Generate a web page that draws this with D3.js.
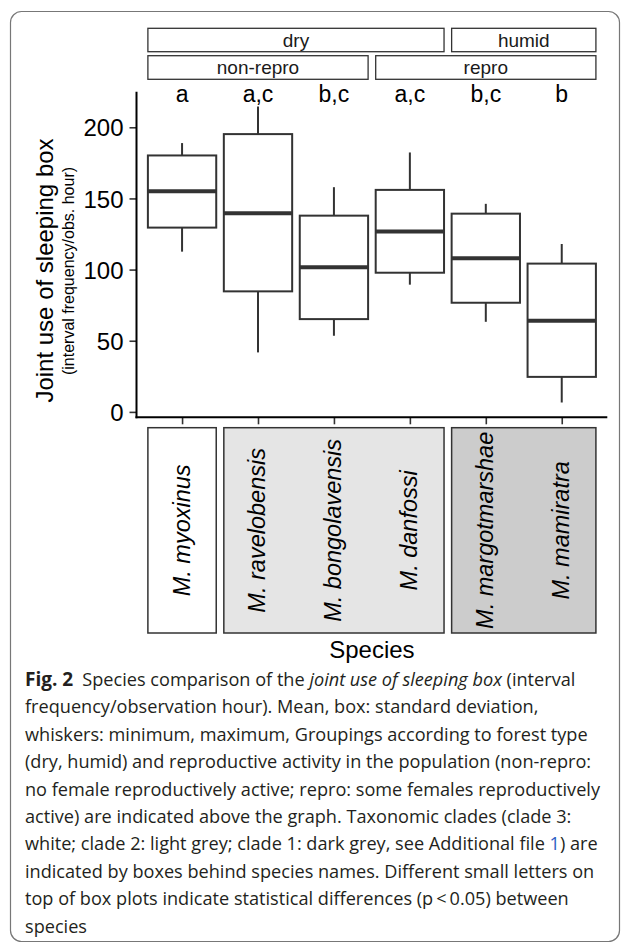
<!DOCTYPE html>
<html>
<head>
<meta charset="utf-8">
<script src="https://cdn.jsdelivr.net/npm/d3@7"></script>
<style>
  body { margin: 0; background: #fff; }
  svg { display: block; }
</style>
</head>
<body>
<div id="chart"></div>
<script>
// species in plotting order
var species = ["M. myoxinus", "M. ravelobensis", "M. bongolavensis", "M. danfossi", "M. margotmarshae", "M. mamiratra"];
// whisker ends (min / max), box (mean - sd / mean + sd), mean
var minVals  = [112.6, 41.8, 53.5, 89.4, 63.3, 6.6];
var lowVals  = [129.5, 84.7, 65.2, 97.8, 76.7, 24.6];
var meanVals = [155.1, 139.6, 101.6, 126.7, 107.9, 64.0];
var highVals = [180.2, 195.2, 137.9, 156.0, 139.3, 104.2];
var maxVals  = [188.9, 214.6, 157.9, 182.3, 146.2, 118.0];
var letters  = ["a", "a,c", "b,c", "a,c", "b,c", "b"];
var yTicks   = [0, 50, 100, 150, 200];

// groupings above the graph (index of first / last species)
var forestGroups = [["dry", 0, 3], ["humid", 4, 5]];
var reproGroups  = [["non-repro", 0, 2], ["repro", 3, 5]];
// clades behind species names
var cladeGroups  = [["clade 3", 0, 0], ["clade 2", 1, 3], ["clade 1", 4, 5]];
var cladeFill    = {"clade 3": "#ffffff", "clade 2": "#e5e5e5", "clade 1": "#cccccc"};

var captionLines = [
  [["Fig. 2", "b"], ["\u2002Species comparison of the ", ""], ["joint use of sleeping box", "i"], [" (interval", ""]],
  [["frequency/observation hour). Mean, box: standard deviation,", ""]],
  [["whiskers: minimum, maximum, Groupings according to forest type", ""]],
  [["(dry, humid) and reproductive activity in the population (non-repro:", ""]],
  [["no female reproductively active; repro: some females reproductively", ""]],
  [["active) are indicated above the graph. Taxonomic clades (clade 3:", ""]],
  [["white; clade 2: light grey; clade 1: dark grey, see Additional file ", ""], ["1", "link"], [") are", ""]],
  [["indicated by boxes behind species names. Different small letters on", ""]],
  [["top of box plots indicate statistical differences (p\u2009<\u20090.05) between", ""]],
  [["species", ""]]
];

var W = 629, H = 944;
var svg = d3.select("#chart").append("svg")
    .attr("width", W)
    .attr("height", H);

// figure frame
svg.append("rect")
    .attr("x", 10.5).attr("y", 11.5)
    .attr("width", 609).attr("height", 930)
    .attr("rx", 11)
    .attr("fill", "none")
    .attr("stroke", "#777")
    .attr("stroke-width", 1.2);

var box = {xmin: 136.5, xmax: 607.3, ymin: 91.7, ymax: 417.3};

var x = d3.scalePoint()
    .domain(species)
    .range([box.xmin, box.xmax])
    .padding(0.6);
var half = x.step() * 0.45;

// 5% expansion like ggplot
var lo = d3.min(minVals), hi = d3.max(maxVals), pad = (hi - lo) * 0.05;
var y = d3.scaleLinear()
    .domain([lo - pad, hi + pad])
    .range([box.ymax, box.ymin]);

var font = "'Liberation Sans', Arial, Helvetica, sans-serif";
var ink = "#333";

// strips on top
function strips(groups, top, bottom) {
    var g = svg.append("g");
    g.selectAll("rect").data(groups).enter().append("rect")
        .attr("x", function(d) { return x(species[d[1]]) - half; })
        .attr("width", function(d) { return x(species[d[2]]) - x(species[d[1]]) + 2 * half; })
        .attr("y", top).attr("height", bottom - top)
        .attr("fill", "#fff").attr("stroke", ink).attr("stroke-width", 1.3);
    g.selectAll("text").data(groups).enter().append("text")
        .attr("x", function(d) { return (x(species[d[1]]) + x(species[d[2]])) / 2; })
        .attr("y", (top + bottom) / 2 + 6.8)
        .attr("text-anchor", "middle")
        .style("font-family", font).style("font-size", "19px").attr("fill", "#1a1a1a")
        .text(function(d) { return d[0]; });
}
strips(forestGroups, 28.3, 51.7);
strips(reproGroups, 55.7, 79.3);

// letters
svg.selectAll(".letter").data(letters).enter().append("text")
    .attr("class", "letter")
    .attr("x", function(d, i) { return x(species[i]); })
    .attr("y", 101.7)
    .attr("text-anchor", "middle")
    .style("font-family", font).style("font-size", "23px").attr("fill", "#000")
    .text(function(d) { return d; });

// y axis
var yAxis = svg.append("g")
    .attr("transform", "translate(" + box.xmin + ",0)")
    .call(d3.axisLeft(y).tickValues(yTicks).tickSize(7).tickPadding(6));
yAxis.select(".domain").remove();
yAxis.selectAll(".tick line").attr("stroke", ink).attr("stroke-width", 1.6);
yAxis.selectAll(".tick text")
    .style("font-family", font).style("font-size", "24px").attr("fill", "#000")
    .attr("dy", "0.36em");
svg.append("line")
    .attr("x1", box.xmin).attr("x2", box.xmin)
    .attr("y1", box.ymin).attr("y2", box.ymax + 1)
    .attr("stroke", "#000").attr("stroke-width", 2);

// x axis
var xAxis = svg.append("g")
    .attr("transform", "translate(0," + box.ymax + ")")
    .call(d3.axisBottom(x).tickSize(7).tickFormat(""));
xAxis.select(".domain").remove();
xAxis.selectAll(".tick line").attr("stroke", ink).attr("stroke-width", 1.6);
svg.append("line")
    .attr("x1", box.xmin - 1).attr("x2", box.xmax)
    .attr("y1", box.ymax).attr("y2", box.ymax)
    .attr("stroke", "#000").attr("stroke-width", 2);

// box plots
var rows = species.map(function(s, i) {
    return {s: s, min: minVals[i], low: lowVals[i], mean: meanVals[i], high: highVals[i], max: maxVals[i]};
});
var bp = svg.selectAll(".bp").data(rows).enter().append("g").attr("class", "bp");
bp.append("line")
    .attr("x1", function(d) { return x(d.s); }).attr("x2", function(d) { return x(d.s); })
    .attr("y1", function(d) { return y(d.max); }).attr("y2", function(d) { return y(d.high); })
    .attr("stroke", ink).attr("stroke-width", 2);
bp.append("line")
    .attr("x1", function(d) { return x(d.s); }).attr("x2", function(d) { return x(d.s); })
    .attr("y1", function(d) { return y(d.low); }).attr("y2", function(d) { return y(d.min); })
    .attr("stroke", ink).attr("stroke-width", 2);
bp.append("rect")
    .attr("x", function(d) { return x(d.s) - half; })
    .attr("width", 2 * half)
    .attr("y", function(d) { return y(d.high); })
    .attr("height", function(d) { return y(d.low) - y(d.high); })
    .attr("fill", "#fff").attr("stroke", ink).attr("stroke-width", 2);
bp.append("line")
    .attr("x1", function(d) { return x(d.s) - half; }).attr("x2", function(d) { return x(d.s) + half; })
    .attr("y1", function(d) { return y(d.mean); }).attr("y2", function(d) { return y(d.mean); })
    .attr("stroke", ink).attr("stroke-width", 4);

// clade boxes with species names
var cTop = 427.7, cBot = 633;
svg.selectAll(".clade").data(cladeGroups).enter().append("rect")
    .attr("class", "clade")
    .attr("x", function(d) { return x(species[d[1]]) - half; })
    .attr("width", function(d) { return x(species[d[2]]) - x(species[d[1]]) + 2 * half; })
    .attr("y", cTop).attr("height", cBot - cTop)
    .attr("fill", function(d) { return cladeFill[d[0]]; })
    .attr("stroke", ink).attr("stroke-width", 1.5);

svg.selectAll(".sp").data(species).enter().append("text")
    .attr("class", "sp")
    .attr("transform", function(d) { return "translate(" + (x(d) + 7.5) + "," + ((cTop + cBot) / 2) + ") rotate(-90)"; })
    .attr("text-anchor", "middle")
    .style("font-family", font).style("font-size", "23.5px").style("font-style", "italic")
    .attr("fill", "#000")
    .text(function(d) { return d; });

// axis titles
svg.append("text")
    .attr("x", (box.xmin + box.xmax) / 2).attr("y", 658)
    .attr("text-anchor", "middle")
    .style("font-family", font).style("font-size", "24px").attr("fill", "#000")
    .text("Species");

svg.append("text")
    .attr("transform", "translate(53.3,270.5) rotate(-90)")
    .attr("text-anchor", "middle")
    .style("font-family", font).style("font-size", "24px").attr("fill", "#000")
    .text("Joint use of sleeping box");
svg.append("text")
    .attr("transform", "translate(74,271) rotate(-90)")
    .attr("text-anchor", "middle")
    .style("font-family", font).style("font-size", "16px").attr("fill", "#000")
    .text("(interval frequency/obs. hour)");

// caption
var capSize = 15;
var cap = svg.append("g").attr("class", "caption")
    .style("font-family", "'Open Sans', sans-serif");
var capTexts = [];
captionLines.forEach(function(line, i) {
    var t = cap.append("text")
        .attr("x", 25).attr("y", 686 + 27.4 * i)
        .attr("fill", "#231f20");
    line.forEach(function(part) {
        var ts = t.append("tspan").text(part[0]);
        if (part[1] === "b") ts.style("font-weight", "bold").attr("font-size-scale", 1.05);
        if (part[1] === "i") ts.style("font-style", "italic");
        if (part[1] === "link") ts.attr("fill", "#2c5ec4");
    });
    capTexts.push(t);
});
function setCapSize(s) {
    cap.selectAll("text").style("font-size", s + "px");
    cap.selectAll("tspan[font-size-scale]").style("font-size", (s * 1.05) + "px");
}
setCapSize(capSize);
// widest caption line (line 7) spans to the right margin at about x = 598
var len = capTexts[6].node().getComputedTextLength();
setCapSize(capSize * 573 / len);
</script>
</body>
</html>
